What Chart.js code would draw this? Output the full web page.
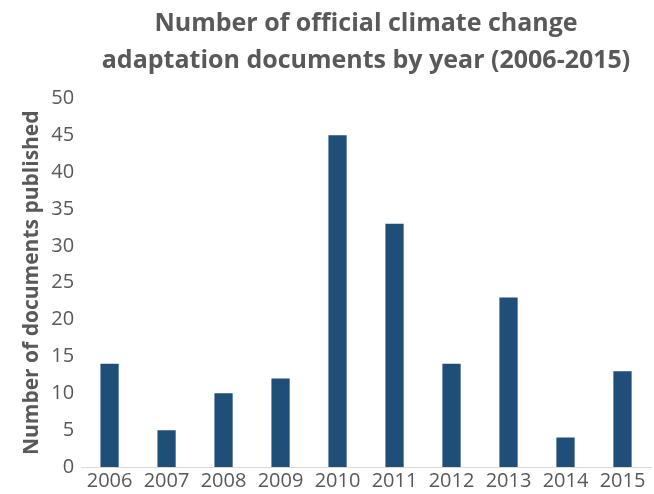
<!DOCTYPE html>
<html>
<head>
<meta charset="utf-8">
<script src="https://cdn.jsdelivr.net/npm/chart.js@4/dist/chart.umd.min.js"></script>
<style>
  html, body { margin: 0; padding: 0; background: #ffffff; }
  #wrap { width: 654px; height: 494px; }
</style>
</head>
<body>
<div id="wrap"><canvas id="canvas"></canvas></div>
<script>
// Data
var years = ["2006", "2007", "2008", "2009", "2010", "2011", "2012", "2013", "2014", "2015"];
var documents = [14, 5, 10, 12, 45, 33, 14, 23, 4, 13];
var titleLines = ["Number of official climate change", "adaptation documents by year (2006-2015)"];
var yTitle = "Number of documents published";

var grey = "#595959";
var ctx = document.getElementById("canvas").getContext("2d");

new Chart(ctx, {
  type: "bar",
  data: {
    labels: years,
    datasets: [{
      data: documents,
      backgroundColor: "#1f4e79",
      barPercentage: 0.32,
      categoryPercentage: 1.0
    }]
  },
  options: {
    responsive: true,
    maintainAspectRatio: false,
    animation: false,
    layout: { padding: { left: 19, right: 3, top: 6, bottom: 7 } },
    plugins: {
      legend: { display: false },
      tooltip: { enabled: false },
      title: {
        display: true,
        fullSize: false,   // centre the title over the plot area like the original
        text: titleLines,
        color: grey,
        font: { family: "Open Sans", size: 25, weight: "bold", lineHeight: 1.45 },
        padding: { top: 0, bottom: 20 }
      }
    },
    scales: {
      x: {
        grid: { display: false },
        border: { color: "#d9d9d9", width: 1 },
        ticks: { color: grey, font: { family: "Open Sans", size: 20 }, padding: -6 }
      },
      y: {
        min: 0,
        max: 50,
        grid: { display: false, drawTicks: false },
        border: { display: false },
        ticks: { stepSize: 5, color: grey, font: { family: "Open Sans", size: 20 }, padding: 7 },
        title: {
          display: true,
          text: yTitle,
          color: grey,
          font: { family: "Open Sans", size: 21, weight: "bold" },
          padding: { top: 0, bottom: 0 }
        }
      }
    }
  }
});
</script>
</body>
</html>
